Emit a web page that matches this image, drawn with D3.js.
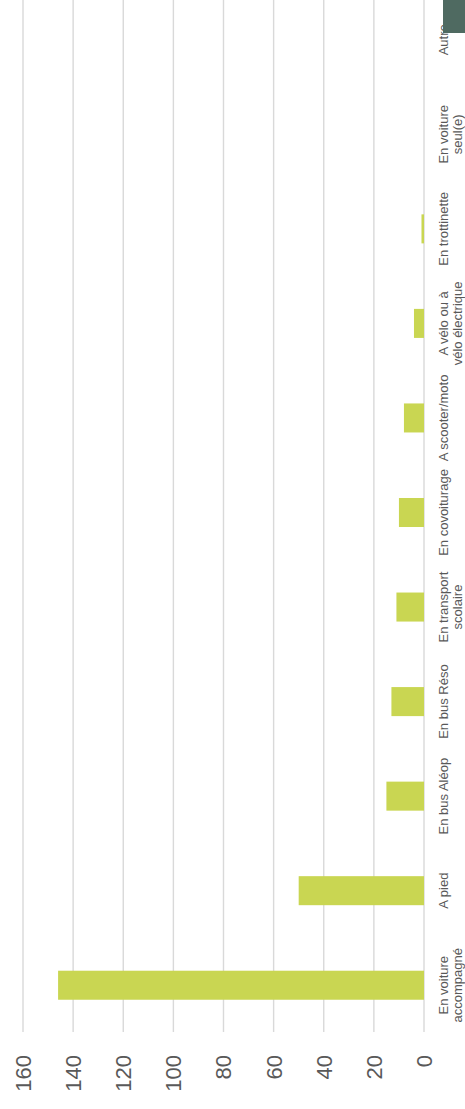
<!DOCTYPE html>
<html>
<head>
<meta charset="utf-8">
<script src="https://cdn.jsdelivr.net/npm/d3@7"></script>
<style>
html,body{margin:0;padding:0;background:#fff;overflow:hidden;}
svg{display:block;}
</style>
</head>
<body>
<script>
const categories = [
  ["En voiture", "accompagné"],
  ["A pied"],
  ["En bus Aléop"],
  ["En bus Réso"],
  ["En transport", "scolaire"],
  ["En covoiturage"],
  ["A scooter/moto"],
  ["A vélo ou à", "vélo électrique"],
  ["En trottinette"],
  ["En voiture", "seul(e)"],
  ["Autre"]
];
const values = [146, 50, 15, 13, 11, 10, 8, 4, 1, 0, 0];
const tickValues = [0, 20, 40, 60, 80, 100, 120, 140, 160];

const W = 465, H = 1109;
const svg = d3.select("body").append("svg").attr("width", W).attr("height", H);

const keys = categories.map(c => c.join(" "));
const x = d3.scaleLinear().domain([0, 160]).range([424, 23]);
const y = d3.scaleBand().domain(keys).range([1032.5, -7.5]).paddingInner(0.693).paddingOuter(0.3465);

// gridlines
svg.append("g").selectAll("line").data(tickValues).join("line")
  .attr("x1", d => x(d)).attr("x2", d => x(d))
  .attr("y1", 0).attr("y2", 1032)
  .attr("stroke", "#d9d9d9").attr("stroke-width", 1.4);

// bars
svg.append("g").selectAll("rect").data(values).join("rect")
  .attr("x", d => x(d))
  .attr("width", d => x(0) - x(d))
  .attr("y", (d, i) => y(keys[i]))
  .attr("height", y.bandwidth())
  .attr("fill", "#c9d652");

// tick labels
svg.append("g").selectAll("text").data(tickValues).join("text")
  .attr("transform", d => `translate(${x(d)},1055) rotate(-90)`)
  .attr("text-anchor", "end")
  .attr("dy", "0.36em")
  .attr("font-family", "Liberation Sans, Arial, sans-serif")
  .attr("font-size", 22)
  .attr("fill", "#595959")
  .text(d => d);

// category labels
const lab = svg.append("g").selectAll("text").data(categories).join("text")
  .attr("transform", (d, i) => `translate(448,${y(keys[i]) + y.bandwidth() / 2}) rotate(-90)`)
  .attr("text-anchor", "middle")
  .attr("font-family", "Liberation Sans, Arial, sans-serif")
  .attr("font-size", 13)
  .attr("fill", "#595959");
lab.selectAll("tspan").data(d => d).join("tspan")
  .attr("x", 0)
  .attr("dy", (d, i) => i === 0 ? 0 : 14)
  .text(d => d);

// legend swatch (clipped at top right)
svg.append("rect").attr("x", 443).attr("y", -10).attr("width", 30).attr("height", 43)
  .attr("fill", "#4f6a61");
</script>
</body>
</html>
